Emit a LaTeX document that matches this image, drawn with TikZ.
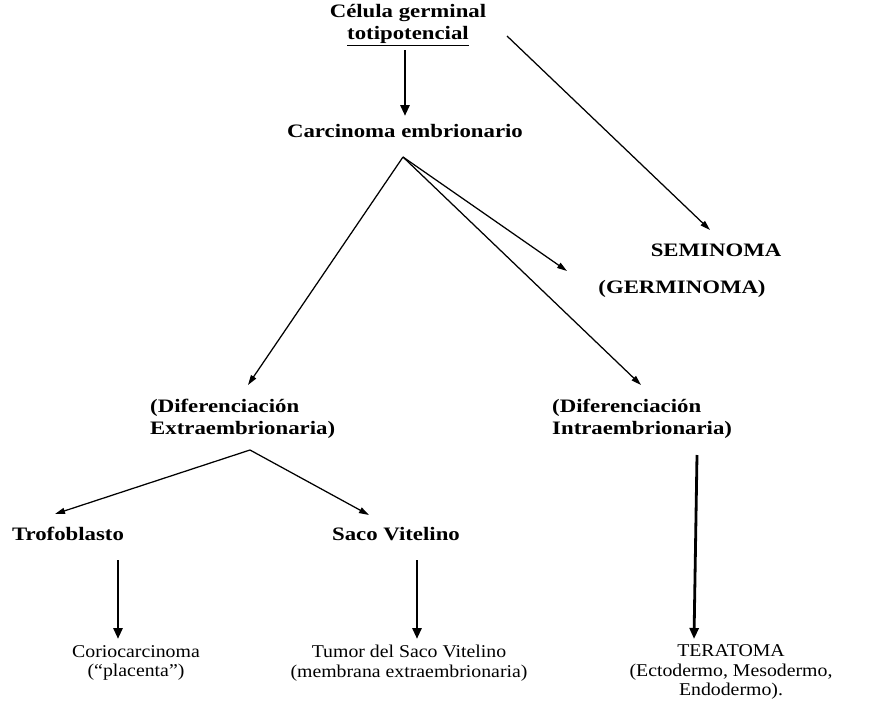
\documentclass[tikz,border=0pt]{standalone}
\usepackage{fontspec}
\setmainfont{Liberation Serif}
\newfontfamily\labfont{Liberation Serif}[FakeStretch=1.2]
\newfontfamily\regfont{Liberation Serif}[FakeStretch=1.1]
\usetikzlibrary{arrows.meta}
\begin{document}
\begin{tikzpicture}[x=1pt,y=-1pt,
  lbl/.style={inner sep=0pt, font=\labfont\bfseries\fontsize{19}{22.5}\selectfont},
  reg/.style={inner sep=0pt, align=center, font=\regfont\fontsize{18}{19.5}\selectfont},
  thin arrow/.style={line width=1.25pt, -{Triangle[length=10pt,width=6pt]}},
  thick arrow/.style={line width=2.8pt, -{Triangle[length=11pt,width=9pt]}}]
\useasboundingbox (0,0) rectangle (870,704);
% nodes
\node[lbl, align=center] (cel) at (408,25) {Célula germinal\\\underline{totipotencial}};
\node[lbl] (carc) at (405,131) {Carcinoma embrionario};
\node[lbl] (sem) at (716,250) {SEMINOMA};
\node[lbl] (germ) at (682,289) {(GERMINOMA)};
\node[lbl, align=left, anchor=west] (extra) at (150,419) {(Diferenciación\\Extraembrionaria)};
\node[lbl, align=left, anchor=west] (intra) at (552,419) {(Diferenciación\\Intraembrionaria)};
\node[lbl] (trof) at (68,534) {Trofoblasto};
\node[lbl] (saco) at (396,534) {Saco Vitelino};
\node[reg] (corio) at (136,663) {Coriocarcinoma\\(“placenta”)};
\node[reg] (tumor) at (409,663) {Tumor del Saco Vitelino\\(membrana extraembrionaria)};
\node[reg] (tera) at (731,672) {TERATOMA\\(Ectodermo, Mesodermo,\\Endodermo).};
% connector points
\coordinate (celS) at (405,50);
\coordinate (carcN) at (405,116);
\coordinate (celE) at (507,36);
\coordinate (semN) at (710,230);
\coordinate (apex) at (403,157);
\coordinate (extraN) at (248,385);
\coordinate (germW) at (567,271);
\coordinate (intraN) at (641,385);
\coordinate (apex2) at (250,450);
\coordinate (trofN) at (55,514);
\coordinate (sacoN) at (369,515);
\coordinate (trofS) at (118,560);
\coordinate (corioN) at (118,639);
\coordinate (sacoS) at (417,560);
\coordinate (tumorN) at (417,639);
\coordinate (intraS) at (697,455);
\coordinate (teraN) at (694,639);
% connectors
\draw[thick arrow] (celS) -- (carcN);
\draw[thin arrow] (celE) -- (semN);
\draw[thin arrow] (apex) -- (extraN);
\draw[thin arrow] (apex) -- (germW);
\draw[thin arrow] (apex) -- (intraN);
\draw[thin arrow] (apex2) -- (trofN);
\draw[thin arrow] (apex2) -- (sacoN);
\draw[thick arrow] (trofS) -- (corioN);
\draw[thick arrow] (sacoS) -- (tumorN);
\draw[thick arrow] (intraS) -- (teraN);
\end{tikzpicture}
\end{document}
